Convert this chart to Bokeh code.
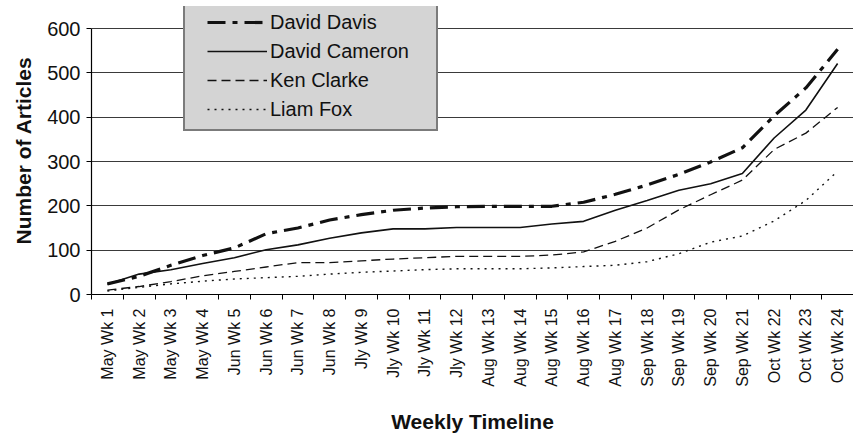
import math
from bokeh.plotting import figure
from bokeh.models import Range1d, FixedTicker, Legend, LegendItem
from bokeh.embed import file_html
from bokeh.resources import INLINE

weeks = ["May Wk 1", "May Wk 2", "May Wk 3", "May Wk 4", "Jun Wk 5", "Jun Wk 6",
         "Jun Wk 7", "Jun Wk 8", "Jly Wk 9", "Jly Wk 10", "Jly Wk 11", "Jly Wk 12",
         "Aug Wk 13", "Aug Wk 14", "Aug Wk 15", "Aug Wk 16", "Aug Wk 17", "Sep Wk 18",
         "Sep Wk 19", "Sep Wk 20", "Sep Wk 21", "Oct Wk 22", "Oct Wk 23", "Oct Wk 24"]

davis = [24, 41, 66, 88, 105, 137, 150, 168, 180, 190, 195, 198, 199, 199, 199, 208,
         226, 247, 271, 299, 331, 403, 466, 553]
cameron = [23, 46, 56, 70, 83, 101, 112, 127, 139, 148, 148, 151, 151, 151, 159, 165,
           190, 212, 235, 250, 273, 353, 416, 521]
clarke = [10, 18, 29, 42, 52, 62, 72, 72, 76, 80, 83, 86, 86, 86, 89, 96,
          120, 150, 191, 225, 258, 327, 364, 422]
fox = [8, 16, 24, 30, 35, 38, 41, 46, 50, 53, 56, 58, 58, 58, 60, 63,
       66, 74, 92, 118, 132, 166, 212, 278]

y_ticks = [0, 100, 200, 300, 400, 500, 600]

FONT = "Liberation Sans"

xs = list(range(1, len(weeks) + 1))

FRAME_H = 288
Y_TOP = 600 * FRAME_H / 266.0   # headroom above 600 so the legend box sits inside the frame

p = figure(frame_width=762, frame_height=FRAME_H, output_backend="svg", toolbar_location=None,
           x_range=Range1d(0.5, len(weeks) + 0.5), y_range=Range1d(0, Y_TOP),
           min_border_left=91, min_border_top=6, min_border_right=0, min_border_bottom=0)
p.outline_line_color = None
p.background_fill_color = "white"
p.border_fill_color = "white"

# grid
p.xgrid.visible = False
p.ygrid.ticker = FixedTicker(ticks=y_ticks)
p.ygrid.grid_line_color = "#3a3a3a"
p.ygrid.grid_line_width = 1

# y axis
p.yaxis.ticker = FixedTicker(ticks=y_ticks)
p.yaxis.bounds = (0, 600)
p.yaxis.axis_line_color = "black"
p.yaxis.axis_line_width = 1.2
p.yaxis.major_tick_out = 5
p.yaxis.major_tick_in = 0
p.yaxis.major_tick_line_color = "black"
p.yaxis.minor_tick_line_color = None
p.yaxis.major_label_text_font = FONT
p.yaxis.major_label_text_font_size = "20px"
p.yaxis.major_label_text_color = "#111111"
p.yaxis.major_label_standoff = 6
p.yaxis.axis_label = "Number of Articles"
p.yaxis.axis_label_text_font = FONT
p.yaxis.axis_label_text_font_size = "21px"
p.yaxis.axis_label_text_font_style = "bold"
p.yaxis.axis_label_text_color = "#111111"
p.yaxis.axis_label_standoff = 9

# x axis: labels at category centres, tick marks between categories
p.xaxis.ticker = FixedTicker(ticks=xs, minor_ticks=[x - 0.5 for x in xs] + [len(xs) + 0.5])
p.xaxis.major_label_overrides = {x: w for x, w in zip(xs, weeks)}
p.xaxis.major_label_orientation = math.pi / 2
p.xaxis.major_tick_out = 0
p.xaxis.major_tick_in = 0
p.xaxis.minor_tick_out = 5
p.xaxis.minor_tick_in = 0
p.xaxis.minor_tick_line_color = "black"
p.xaxis.axis_line_color = "black"
p.xaxis.axis_line_width = 1.2
p.xaxis.major_label_text_font = FONT
p.xaxis.major_label_text_font_size = "16px"
p.xaxis.major_label_text_color = "#111111"
p.xaxis.major_label_standoff = 9
p.xaxis.axis_label = "Weekly Timeline"
p.xaxis.axis_label_text_font = FONT
p.xaxis.axis_label_text_font_size = "21px"
p.xaxis.axis_label_text_font_style = "bold"
p.xaxis.axis_label_text_color = "#111111"
p.xaxis.axis_label_standoff = 20

# series
r_davis = p.line(xs, davis, line_color="#111111", line_width=3.2, line_dash="18 7 5 7")
r_cameron = p.line(xs, cameron, line_color="#111111", line_width=1.6)
r_clarke = p.line(xs, clarke, line_color="#111111", line_width=1.3, line_dash="9 5")
r_fox = p.line(xs, fox, line_color="#111111", line_width=1.4, line_dash="2 5")

# legend background box
r_blank = p.line([], [], line_alpha=0)
bg = Legend(items=[LegendItem(label=" ", renderers=[r_blank])],
            location=(92, 163), padding=0, margin=0, spacing=0,
            glyph_width=251, glyph_height=124, label_width=0, label_height=124,
            label_standoff=0, label_text_font_size="1px",
            background_fill_color="#d4d4d4", background_fill_alpha=1.0,
            border_line_color="#222222", border_line_width=2)
p.add_layout(bg, "center")

leg = Legend(items=[LegendItem(label="David Davis", renderers=[r_davis]),
                    LegendItem(label="David Cameron", renderers=[r_cameron]),
                    LegendItem(label="Ken Clarke", renderers=[r_clarke]),
                    LegendItem(label="Liam Fox", renderers=[r_fox])],
             location=(116, 173), padding=0, margin=0, spacing=5,
             glyph_width=60, glyph_height=20, label_height=24, label_standoff=3,
             label_text_font=FONT, label_text_font_size="20px", label_text_color="#111111",
             background_fill_alpha=0, border_line_color=None)
p.add_layout(leg, "center")

open("out.html", "w").write(file_html(p, INLINE))
